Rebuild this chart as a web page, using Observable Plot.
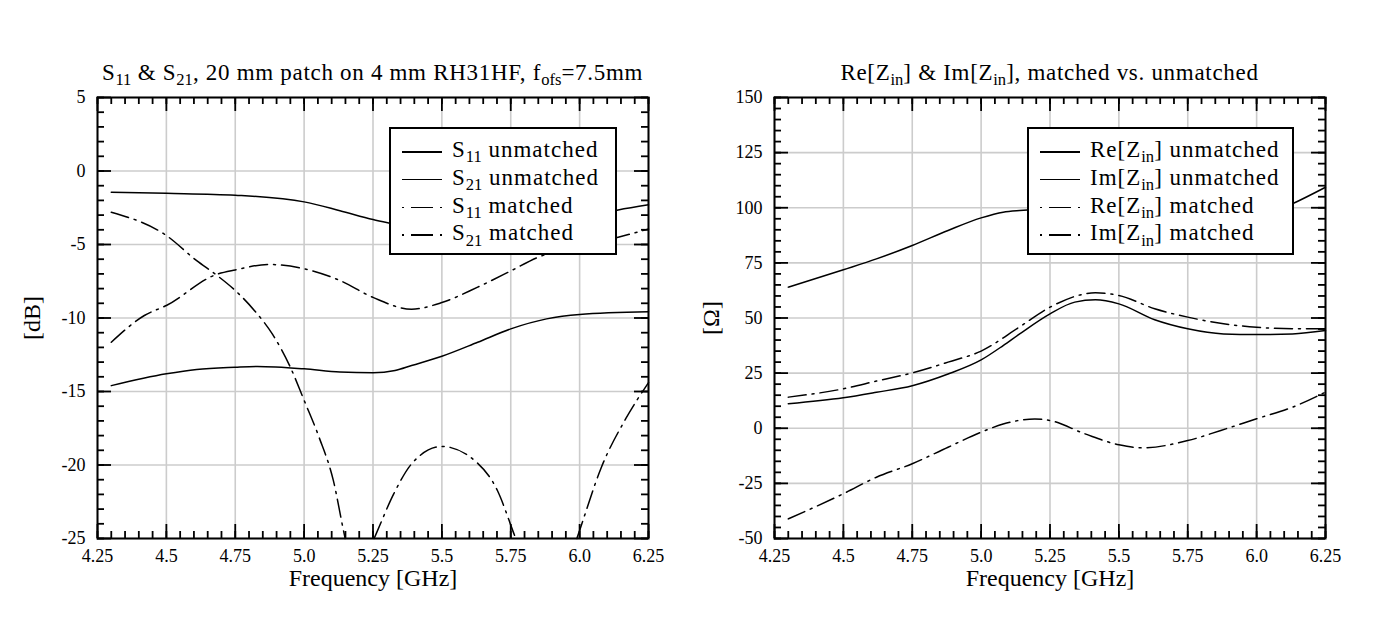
<!DOCTYPE html>
<html><head><meta charset="utf-8">
<script src="https://cdn.jsdelivr.net/npm/d3@7"></script>
<script src="https://cdn.jsdelivr.net/npm/@observablehq/plot@0.6"></script>
<style>
body{margin:0;background:#fff;font-family:"Liberation Serif",serif;color:#000;}
#wrap{position:relative;width:1384px;height:635px;overflow:hidden;background:#fff;}
.panel{position:absolute;top:0;width:692px;height:635px;}
.title{position:absolute;top:61px;font-size:23px;line-height:23px;letter-spacing:0.7px;text-align:center;white-space:nowrap;}
.ylab{position:absolute;top:317.5px;width:120px;margin-left:-60px;margin-top:-14px;height:28px;line-height:28px;font-size:24px;text-align:center;transform:rotate(-90deg);}
.legend{position:absolute;top:127px;height:128px;background:#fff;border:2px solid #000;box-sizing:border-box;padding-top:7px;}
.row{display:flex;align-items:flex-start;height:27.8px;line-height:27.8px;font-size:23px;letter-spacing:1px;white-space:nowrap;}
.sample{margin-left:11px;margin-top:15px;width:40px;height:1.6px;flex:none;background:#000;}
.sample.dashdot{background:linear-gradient(to right,#000 0 2px,transparent 2px 9px,#000 9px 31px,transparent 31px 38px,#000 38px 40px);}
.row span{margin-left:10px;}
sub{font-size:0.72em;vertical-align:baseline;position:relative;top:0.32em;line-height:0;letter-spacing:0;}
</style></head>
<body><div id="wrap"></div>
<script>
// ---------- data: left panel (S-parameters, dB) ----------
const s11UnmatchedF = [4.30, 4.50, 4.75, 5.00, 5.13, 5.25, 5.31, 5.40, 5.50, 5.60, 5.70, 5.80, 5.90, 6.00, 6.14, 6.25];
const s11UnmatchedDb = [-1.45, -1.52, -1.65, -2.1, -2.7, -3.3, -3.55, -3.9, -4.1, -4.15, -4.05, -3.8, -3.5, -3.2, -2.65, -2.3];

const s21UnmatchedF = [4.30, 4.50, 4.61, 4.75, 4.83, 5.00, 5.13, 5.25, 5.33, 5.39, 5.50, 5.63, 5.75, 5.88, 6.00, 6.25];
const s21UnmatchedDb = [-14.6, -13.8, -13.5, -13.35, -13.3, -13.46, -13.68, -13.73, -13.57, -13.23, -12.6, -11.65, -10.74, -10.06, -9.76, -9.58];

// S11 matched dips below the -25 dB floor twice (NaN = off-chart gap)
const s11MatchedF = [4.30, 4.50, 4.61, 4.68, 4.75, 4.82, 4.885, 4.95, 5.00, 5.054, 5.106, 5.145, 5.149, 5.20, 5.254, 5.261, 5.327, 5.391, 5.50, 5.625, 5.702, 5.76, 5.768, 5.88, 5.99, 6.00, 6.078, 6.169, 6.25];
const s11MatchedDb = [-2.8, -4.39, -6.1, -7.05, -8.13, -9.5, -11.1, -13.35, -15.6, -18.1, -21.05, -24.65, -25, NaN, -25, -24.7, -21.9, -19.9, -18.74, -19.8, -21.75, -24.6, -25, NaN, -25, -24.45, -20.2, -16.8, -14.4];

const s21MatchedF = [4.30, 4.42, 4.50, 4.68, 4.75, 4.87, 5.00, 5.13, 5.25, 5.39, 5.50, 5.63, 5.75, 5.85, 5.95, 6.05, 6.14, 6.25];
const s21MatchedDb = [-11.65, -9.83, -9.15, -7.05, -6.73, -6.36, -6.65, -7.45, -8.6, -9.4, -8.95, -7.9, -6.8, -5.86, -5.3, -4.9, -4.5, -3.95];

// ---------- data: right panel (impedance, ohm) ----------
const reUnmatchedF = [4.30, 4.50, 4.62, 4.75, 4.88, 5.00, 5.08, 5.14, 5.25, 5.40, 5.55, 5.70, 5.85, 5.95, 6.05, 6.13, 6.25];
const reUnmatchedOhm = [64.0, 71.9, 76.8, 82.9, 89.7, 95.4, 98.0, 98.75, 99.3, 98.5, 96, 93.5, 92.5, 94, 97.5, 101.8, 109.3];

const imUnmatchedF = [4.30, 4.50, 4.62, 4.75, 4.88, 5.00, 5.08, 5.14, 5.25, 5.34, 5.415, 5.50, 5.63, 5.75, 5.88, 6.00, 6.13, 6.25];
const imUnmatchedOhm = [11.1, 13.8, 16.3, 19.3, 24.6, 31.0, 37.5, 42.8, 51.9, 57.2, 58.25, 56.4, 49.2, 45.1, 42.8, 42.5, 42.8, 44.3];

const reMatchedF = [4.30, 4.50, 4.62, 4.75, 4.88, 5.00, 5.14, 5.25, 5.415, 5.50, 5.63, 5.75, 5.88, 6.00, 6.13, 6.25];
const reMatchedOhm = [14.1, 17.9, 21.4, 25.1, 30.0, 35.0, 46.0, 54.9, 61.4, 60.2, 54.2, 50.4, 47.4, 45.8, 45.1, 45.1];

const imMatchedF = [4.30, 4.50, 4.62, 4.75, 4.88, 5.00, 5.08, 5.195, 5.25, 5.376, 5.50, 5.584, 5.75, 5.87, 6.00, 6.13, 6.25];
const imMatchedOhm = [-41.1, -29.7, -22.2, -16.1, -8.6, -1.8, 1.9, 4.2, 3.5, -2.5, -7.5, -8.9, -5.6, -1.0, 4.3, 9.55, 16.4];

// ---------- ticks & labels ----------
const xTicks = [4.25, 4.5, 4.75, 5.0, 5.25, 5.5, 5.75, 6.0, 6.25];
const xTickLabels = ["4.25", "4.5", "4.75", "5.0", "5.25", "5.5", "5.75", "6.0", "6.25"];
const leftYTicks = [-25, -20, -15, -10, -5, 0, 5];
const leftYTickLabels = ["-25", "-20", "-15", "-10", "-5", "0", "5"];
const rightYTicks = [-50, -25, 0, 25, 50, 75, 100, 125, 150];
const rightYTickLabels = ["-50", "-25", "0", "25", "50", "75", "100", "125", "150"];

const leftTitle = "S<sub>11</sub> &amp; S<sub>21</sub>, 20 mm patch on 4 mm RH31HF, f<sub>ofs</sub>=7.5mm";
const rightTitle = "Re[Z<sub>in</sub>] &amp; Im[Z<sub>in</sub>], matched vs. unmatched";
const xLabel = "Frequency [GHz]";
const leftYLabel = "[dB]";
const rightYLabel = "[Ω]";
const leftLegend = ["S<sub>11</sub> unmatched", "S<sub>21</sub> unmatched", "S<sub>11</sub> matched", "S<sub>21</sub> matched"];
const rightLegend = ["Re[Z<sub>in</sub>] unmatched", "Im[Z<sub>in</sub>] unmatched", "Re[Z<sub>in</sub>] matched", "Im[Z<sub>in</sub>] matched"];
const legendStyles = ["solid", "solid", "dashdot", "dashdot"];

// ---------- rendering ----------
const FONT = "Liberation Serif";
const DASHDOT = "18,6,2,6";
const W = 692, H = 635, MT = 97, MB = 97;
const zip = (fs, vs) => fs.map((f, i) => ({f, v: vs[i]}));

function makeChart({ml, mr, yDomain, yTicks, yTickLabels, yMinorStep, series}) {
  const pw = W - ml - mr, ph = H - MT - MB;
  const xMinor = d3.range(0, 41).map(i => 4.25 + i * 0.05);
  const yMinor = d3.range(yDomain[0], yDomain[1] + yMinorStep / 2, yMinorStep);
  const xFmt = new Map(xTicks.map((t, i) => [t, xTickLabels[i]]));
  const yFmt = new Map(yTicks.map((t, i) => [t, yTickLabels[i]]));
  const MAJ = 14, MIN = 7, TW = 1.8;
  return Plot.plot({
    width: W, height: H, marginTop: MT, marginBottom: MB, marginLeft: ml, marginRight: mr,
    x: {domain: [4.25, 6.25]},
    y: {domain: yDomain, axis: null},
    marks: [
      Plot.ruleX(xTicks, {stroke: "#cccccc", strokeWidth: 1.6}),
      Plot.ruleY(yTicks, {stroke: "#cccccc", strokeWidth: 1.6}),
      Plot.ruleX(xTicks, {stroke: "black", strokeWidth: TW, insetTop: ph - MAJ}),
      Plot.ruleX(xTicks, {stroke: "black", strokeWidth: TW, insetBottom: ph - MAJ}),
      Plot.ruleX(xMinor, {stroke: "black", strokeWidth: TW, insetTop: ph - MIN}),
      Plot.ruleX(xMinor, {stroke: "black", strokeWidth: TW, insetBottom: ph - MIN}),
      Plot.ruleY(yTicks, {stroke: "black", strokeWidth: TW, insetRight: pw - MAJ}),
      Plot.ruleY(yTicks, {stroke: "black", strokeWidth: TW, insetLeft: pw - MAJ}),
      Plot.ruleY(yMinor, {stroke: "black", strokeWidth: TW, insetRight: pw - MIN}),
      Plot.ruleY(yMinor, {stroke: "black", strokeWidth: TW, insetLeft: pw - MIN}),
      ...series.map(s => Plot.line(s.data, {x: "f", y: "v", stroke: "black", strokeWidth: 1.5,
        strokeDasharray: s.style === "dashdot" ? DASHDOT : undefined, curve: "monotone-x"})),
      Plot.frame({stroke: "black", strokeWidth: 2}),
      Plot.axisX(xTicks, {tickSize: 0, tickPadding: 11, fontSize: 18, fontFamily: FONT, label: null, tickFormat: d => xFmt.get(d)}),
      Plot.text(yTicks, {y: d => d, text: d => yFmt.get(d), frameAnchor: "left", dx: -12, textAnchor: "end", fontSize: 18, fontFamily: FONT}),
      Plot.text([xLabel], {frameAnchor: "bottom", text: d => d, dy: 47, fontSize: 24, fontFamily: FONT})
    ]
  });
}

function legendRow(label, style) {
  const row = document.createElement("div");
  row.className = "row";
  row.innerHTML = `<div class="sample ${style}"></div><span>${label}</span>`;
  return row;
}

function build(left, ml, mr, title, yLabel, yLabelX, legendLabels, legendLeft, legendWidth, chart) {
  const p = document.createElement("div");
  p.className = "panel";
  p.style.left = left + "px";
  p.appendChild(chart);
  const t = document.createElement("div");
  t.className = "title";
  t.style.left = ml + "px";
  t.style.width = (W - ml - mr) + "px";
  t.innerHTML = title;
  p.appendChild(t);
  const yl = document.createElement("div");
  yl.className = "ylab";
  yl.style.left = (yLabelX - left) + "px";
  yl.textContent = yLabel;
  p.appendChild(yl);
  const lg = document.createElement("div");
  lg.className = "legend";
  lg.style.left = (legendLeft - left) + "px";
  lg.style.width = legendWidth + "px";
  legendLabels.forEach((lab, i) => lg.appendChild(legendRow(lab, legendStyles[i])));
  p.appendChild(lg);
  document.getElementById("wrap").appendChild(p);
}

const leftChart = makeChart({
  ml: 97, mr: 44, yDomain: [-25, 5], yTicks: leftYTicks, yTickLabels: leftYTickLabels, yMinorStep: 1,
  series: [
    {data: zip(s11UnmatchedF, s11UnmatchedDb), style: "solid"},
    {data: zip(s21UnmatchedF, s21UnmatchedDb), style: "solid"},
    {data: zip(s11MatchedF, s11MatchedDb), style: "dashdot"},
    {data: zip(s21MatchedF, s21MatchedDb), style: "dashdot"}
  ]
});
const rightChart = makeChart({
  ml: 82, mr: 59, yDomain: [-50, 150], yTicks: rightYTicks, yTickLabels: rightYTickLabels, yMinorStep: 5,
  series: [
    {data: zip(reUnmatchedF, reUnmatchedOhm), style: "solid"},
    {data: zip(imUnmatchedF, imUnmatchedOhm), style: "solid"},
    {data: zip(reMatchedF, reMatchedOhm), style: "dashdot"},
    {data: zip(imMatchedF, imMatchedOhm), style: "dashdot"}
  ]
});
build(0, 97, 44, leftTitle, leftYLabel, 32, leftLegend, 389, 228, leftChart);
build(692, 82, 59, rightTitle, rightYLabel, 711, rightLegend, 1027, 267, rightChart);
</script></body></html>
